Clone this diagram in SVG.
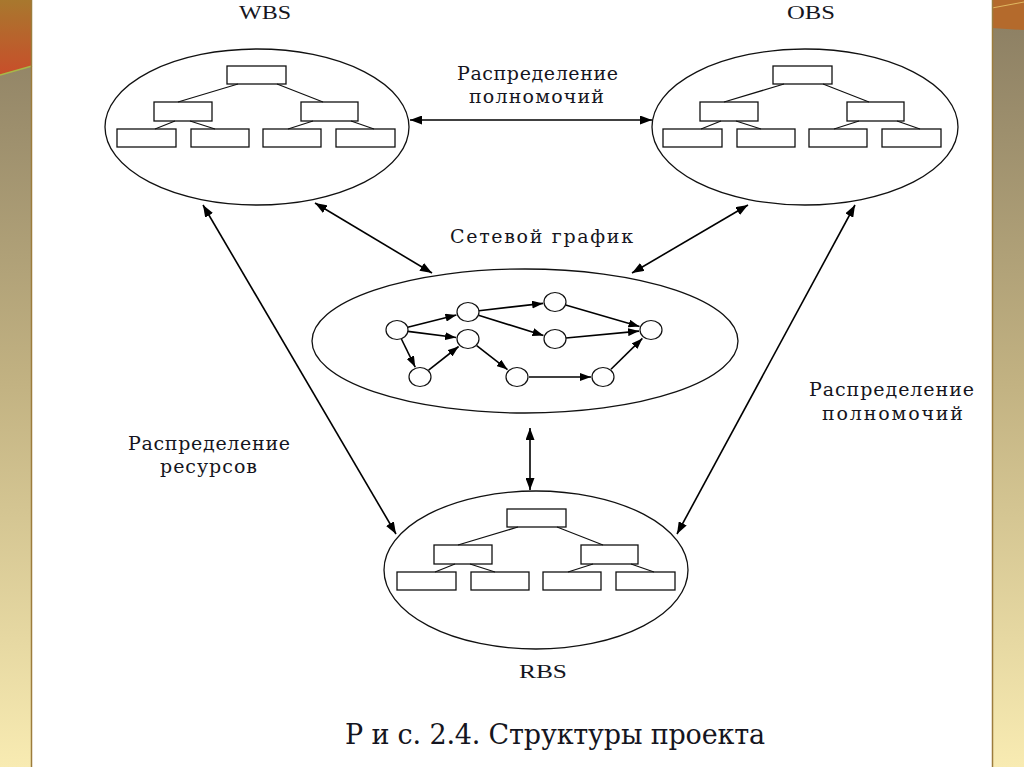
<svg xmlns="http://www.w3.org/2000/svg" width="1024" height="767" viewBox="0 0 1024 767">
<defs>
<linearGradient id="side" x1="0" y1="0" x2="0" y2="1">
<stop offset="0" stop-color="#8a7d62"/>
<stop offset="0.5" stop-color="#c2b282"/>
<stop offset="1" stop-color="#f8ebb2"/>
</linearGradient>
<linearGradient id="topL" x1="0" y1="0" x2="0" y2="1">
<stop offset="0" stop-color="#a8782e"/>
<stop offset="1" stop-color="#c84e2a"/>
</linearGradient>
<marker id="ah" viewBox="0 0 12 9" refX="12" refY="4.5" markerWidth="12" markerHeight="9" markerUnits="userSpaceOnUse" orient="auto-start-reverse">
<path d="M0,0 L12,4.5 L0,9 z" fill="#000"/>
</marker>
<marker id="sh" viewBox="0 0 11 8" refX="11" refY="4" markerWidth="11" markerHeight="8" markerUnits="userSpaceOnUse" orient="auto">
<path d="M0,0 L11,4 L0,8 z" fill="#000"/>
</marker>
<g id="tree" fill="#fff" stroke="#111" stroke-width="1.3">
<rect x="0" y="0" width="59" height="18"/>
<rect x="-73" y="36" width="58" height="19"/>
<rect x="74" y="36" width="57" height="19"/>
<rect x="-110" y="63" width="59" height="18"/>
<rect x="-36" y="63" width="58" height="18"/>
<rect x="36" y="63" width="58" height="18"/>
<rect x="109" y="63" width="59" height="18"/>
<path fill="none" stroke-width="1.2" d="M11,18 L-49,36 M50,18 L96,36 M-52,55 L-72,63 M-37,55 L-12,63 M86,55 L61,63 M124,55 L147,63"/>
</g>
</defs>
<style>
.bg{fill:#fff}
.ell{fill:none;stroke:#111;stroke-width:1.3}
.con line{stroke:#000;stroke-width:1.6;marker-start:url(#ah);marker-end:url(#ah)}
.net ellipse{fill:#fff;stroke:#111;stroke-width:1.2}
.net line{stroke:#000;stroke-width:1.6;marker-end:url(#sh)}
text{font-family:"Liberation Serif",serif;fill:#151520}
.lbl{font-family:"DejaVu Serif","Liberation Serif",serif;font-size:19px}
.ttl{font-size:18px}
.cap{font-family:"DejaVu Serif","Liberation Serif",serif;font-size:27px}
</style>
<rect class="bg" x="0" y="0" width="1024" height="767"/>
<g id="slide-bg">
<rect x="0" y="0" width="32" height="767" fill="url(#side)"/>
<polygon points="0,0 32,0 32,66 0,75" fill="url(#topL)"/>
<line x1="0" y1="75" x2="32" y2="66" stroke="#a8b848" stroke-width="1.5"/>
<line x1="31.5" y1="0" x2="31.5" y2="767" stroke="#9c7c3c" stroke-width="1.5"/>
<rect x="992" y="0" width="32" height="767" fill="url(#side)"/>
<polygon points="992,0 1024,0 1024,30 992,28" fill="#b46a2c"/>
<line x1="992" y1="8" x2="1024" y2="2" stroke="#e0b860" stroke-width="1"/>
<line x1="992.5" y1="0" x2="992.5" y2="767" stroke="#9c7c3c" stroke-width="1.5"/>
</g>
<g id="WBS">
<ellipse class="ell" cx="257" cy="127" rx="152" ry="78"/>
<use href="#tree" x="227" y="66"/>
<text class="ttl" x="265" y="19" text-anchor="middle" textLength="52" lengthAdjust="spacingAndGlyphs">WBS</text>
</g>
<g id="OBS">
<ellipse class="ell" cx="805" cy="127" rx="153" ry="78"/>
<use href="#tree" x="773" y="66"/>
<text class="ttl" x="811" y="19" text-anchor="middle" textLength="48" lengthAdjust="spacingAndGlyphs">OBS</text>
</g>
<g id="RBS">
<ellipse class="ell" cx="536" cy="570" rx="152" ry="79"/>
<use href="#tree" x="507" y="509"/>
<text class="ttl" x="543" y="678" text-anchor="middle" textLength="48" lengthAdjust="spacingAndGlyphs">RBS</text>
</g>
<g id="network">
<ellipse class="ell" cx="525" cy="341" rx="213" ry="72"/>
<g class="net">
<line x1="407.7" y1="327.3" x2="456.4" y2="315.0"/>
<line x1="407.9" y1="331.4" x2="456.1" y2="337.5"/>
<line x1="401.4" y1="339" x2="415.2" y2="367.1"/>
<line x1="428.6" y1="370.2" x2="458.6" y2="346.5"/>
<line x1="478.9" y1="310.7" x2="543.1" y2="303.4"/>
<line x1="478.5" y1="315.3" x2="543.5" y2="335.4"/>
<line x1="476.7" y1="345.7" x2="507.5" y2="369.6"/>
<line x1="565.6" y1="305.1" x2="639.5" y2="326.6"/>
<line x1="566" y1="338" x2="639" y2="331.1"/>
<line x1="529" y1="377" x2="591" y2="377"/>
<line x1="611" y1="369.3" x2="642.4" y2="338.4"/>
<ellipse cx="397" cy="330" rx="11" ry="9.5"/>
<ellipse cx="468" cy="312" rx="11" ry="9.5"/>
<ellipse cx="468" cy="339" rx="11" ry="9.5"/>
<ellipse cx="555" cy="302" rx="11" ry="9.5"/>
<ellipse cx="555" cy="339" rx="11" ry="9.5"/>
<ellipse cx="651" cy="330" rx="11" ry="9.5"/>
<ellipse cx="420" cy="377" rx="11" ry="9.5"/>
<ellipse cx="517" cy="377" rx="11" ry="9.5"/>
<ellipse cx="603" cy="377" rx="11" ry="9.5"/>
</g>
<text class="lbl" x="450" y="243" textLength="183" lengthAdjust="spacing">Сетевой график</text>
</g>
<g id="connectors" class="con">
<line x1="410" y1="120" x2="652" y2="120"/>
<line x1="315" y1="203" x2="432" y2="273"/>
<line x1="748" y1="205" x2="632" y2="273"/>
<line x1="203" y1="205" x2="396" y2="534"/>
<line x1="855" y1="205" x2="677" y2="534"/>
<line x1="530" y1="428" x2="530" y2="490"/>
</g>
<g id="labels">
<text class="lbl" x="457" y="80" textLength="161" lengthAdjust="spacing">Распределение</text>
<text class="lbl" x="469" y="103" textLength="135" lengthAdjust="spacing">полномочий</text>
<text class="lbl" x="809" y="396" textLength="165" lengthAdjust="spacing">Распределение</text>
<text class="lbl" x="822" y="420" textLength="141" lengthAdjust="spacing">полномочий</text>
<text class="lbl" x="128" y="450" textLength="162" lengthAdjust="spacing">Распределение</text>
<text class="lbl" x="160" y="473" textLength="97" lengthAdjust="spacing">ресурсов</text>
<text class="cap" x="345" y="744" textLength="420" lengthAdjust="spacing">Р и с. 2.4. Структуры проекта</text>
</g>
</svg>
